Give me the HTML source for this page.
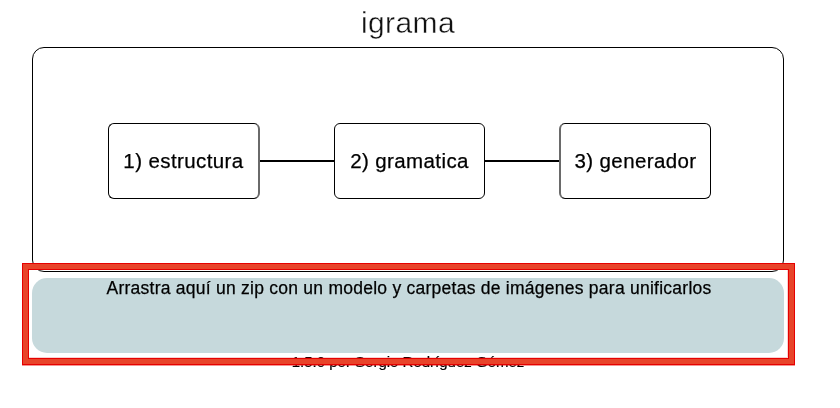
<!DOCTYPE html>
<html><head><meta charset="utf-8">
<style>
html,body{margin:0;padding:0;background:#fff;width:840px;height:408px;overflow:hidden;}
body{font-family:"Liberation Sans",sans-serif;color:#000;position:relative;}
.abs{position:absolute;}
.t{will-change:transform;}
#title{left:-0.3px;width:816px;top:7.6px;text-align:center;font-size:30px;line-height:30px;color:#111;letter-spacing:0.4px;-webkit-text-stroke:0.4px #fff;}
#outer{left:32px;top:47px;width:752px;height:225px;border:1px solid #000;border-radius:12px;box-sizing:border-box;}
.node{width:151px;height:76px;top:123px;border:1px solid #000;border-radius:6px;box-sizing:border-box;font-size:20.5px;line-height:74px;text-align:center;letter-spacing:0.4px;-webkit-text-stroke:0.25px #000;}
.conn{height:2px;top:160px;background:#000;}
#drop{left:32px;top:278px;width:752px;height:75px;background:#c6d9dc;border-radius:15px;}
#droptext{left:33px;width:752px;top:280px;text-align:center;font-size:17.5px;line-height:17px;letter-spacing:0.25px;-webkit-text-stroke:0.25px #000;}
#foot{left:0;width:816px;top:354px;text-align:center;font-size:15px;line-height:15px;-webkit-text-stroke:0.2px #000;}
#red{left:22px;top:263px;width:773px;height:102px;box-sizing:border-box;border:1px solid #e60000;}
#red2{left:23px;top:264px;width:771px;height:100px;box-sizing:border-box;border:5px solid #e8442a;}
</style></head><body>
<div id="title" class="abs t">igrama</div>
<div id="outer" class="abs"></div>
<div class="conn abs" style="left:259px;width:75px;"></div>
<div class="conn abs" style="left:485px;width:75px;"></div>
<div class="node abs t" style="left:108px;width:152px;border-right:2px solid #6a6a6a;">1) estructura</div>
<div class="node abs t" style="left:334px;">2) gramatica</div>
<div class="node abs t" style="left:559px;width:152px;border-left:2px solid #6a6a6a;">3) generador</div>
<div id="drop" class="abs"></div>
<div id="droptext" class="abs t">Arrastra aquí un zip con un modelo y carpetas de imágenes para unificarlos</div>
<div id="foot" class="abs t">1.5.0 por Sergio Rodríguez Gómez</div>
<div id="red" class="abs"></div>
<div id="red2" class="abs"></div>
<div class="abs" style="left:22px;top:365px;width:773px;height:1px;background:rgba(230,20,10,0.45);"></div>
<div class="abs" style="left:29px;top:357px;width:758px;height:1px;background:rgba(230,0,0,0.18);"></div>
<div class="abs" style="left:787px;top:270px;width:1px;height:88px;background:rgba(230,0,0,0.18);"></div>
<div class="abs" style="left:28px;top:269px;width:761px;height:90px;box-sizing:border-box;border:1px solid #e60000;"></div>
</body></html>
